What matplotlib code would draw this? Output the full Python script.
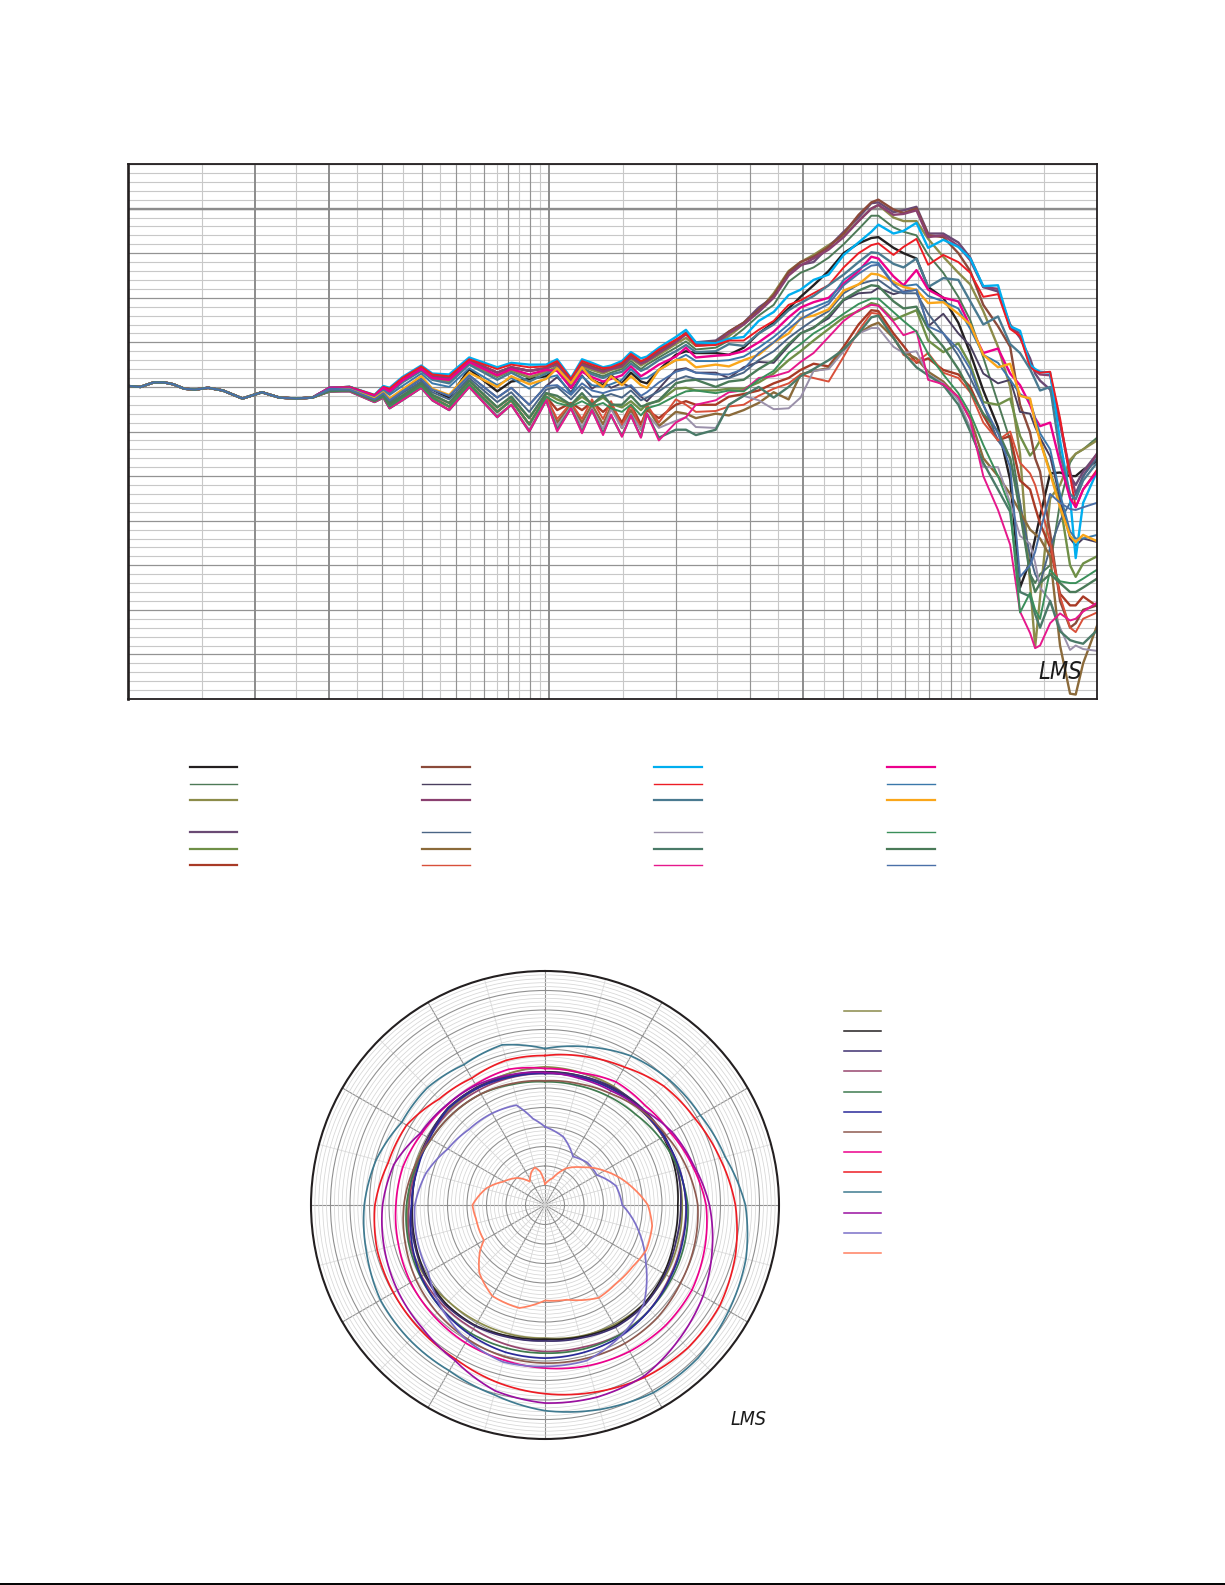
import numpy as np
import matplotlib
matplotlib.use("Agg")
import matplotlib.pyplot as plt
from matplotlib.lines import Line2D

W, H = 1225, 1585

# ---------- frequency response data (Hz / dB) ----------
FREQ_LOW = [100,107,115,122,128,136,144,155,168,187,208,229,251,274]
LEVEL_LOW = [35.1,35.0,35.5,35.5,35.3,34.8,34.7,34.9,34.6,33.7,34.4,33.8,33.7,33.8]

FREQ_A = [301,336,385,404,418,448,497,528,579,646,753,813,897,984]
FREQ_B = [1045,1127,1197,1264,1343,1403,1489,1564,1652,1707,1822,1999,2113,2231,2487,2672]
FREQ_C = [2897,3145,3414,3705,3954,4246,4611,5005,5431,5823,6052,6572,6942,7452,7946,8630,9370,10000]
FREQ_D = [10740,11640,12440,13130,13870,14260,14650,15480,16340,17260,17800,18540,20000]

BLACK = [34.7,34.7,33.7,34.3,33.6,34.6,35.9,34.7,33.8,37,34.5,35.6,35.9,36.2,
 37.1,34.9,36.9,35.8,35.2,36.3,35.4,36.6,35.6,35.4,36.9,38.6,39,38.8,38.8,38.6,
 39.4,41,42.2,43.8,45.1,46.4,48,50,51.1,51.7,51.8,50.6,50,49.4,46.2,45,42.2,38.8,
 34.6,30.5,24.6,12.5,15.5,18,20.5,25.3,25.4,25,25,25.7,26.7]
GREEN_GRAY = [34.8,34.9,33.9,34.8,34.4,35.6,36.9,35.9,35.6,37.6,36.1,36.8,36,36.7,
 37.2,35.2,37.1,36.6,36.2,36.6,37,37.9,37,37.5,38.3,39.4,40.1,39.2,39.4,40.2,
 41.5,43,44.2,46.8,47.8,48.4,49.5,51,52.7,54.2,54.2,52.9,52.4,52,49.8,47.8,45.1,42.5,
 38.3,33.2,29,22,14,13,14,15,22,26.5,27.5,28,29.3]
OLIVE = [34.8,34.9,33.9,34.8,34.4,35.6,36.9,35.9,35.6,37.6,36.2,36.9,36.1,36.7,
 37.3,35.4,37.3,36.9,36.5,36.9,37.2,38.2,37.4,37.8,38.6,39.8,40.5,39.6,39.8,40.7,
 42,43.5,45.5,48,49,49.8,50.9,52,53.6,55,55.4,54,53.6,53.6,51.6,49.6,47.8,46.5,
 43.5,39.5,35,27.5,13,5.8,11.4,22.5,24,26.8,27.5,28,29]
PURPLE = [34.9,35,34,35,34.7,35.8,37.2,36.2,36,38,36.6,37.2,36.8,37.1,
 37.6,35.7,37.6,37.2,36.8,37.1,37.4,38.4,37.7,38,38.9,40.1,41.1,40,40.2,41.2,
 42.2,43.9,45.1,47.8,48.7,49,50.7,52.4,54,55.6,55.7,54.6,54.8,55.2,52.2,52.2,51.2,49.5,
 46.2,45.7,42,40.5,38.2,36.5,35.7,34.7,31,25,24,25.5,27.5]
OLIVE_GREEN = [34.6,34.6,33.5,34.1,33.1,34,35.4,34.1,33.2,35.7,32.7,33.9,31.5,34.3,
 33.6,33,33.9,33.1,33.8,33.1,32.7,33.4,32.4,33.1,33.4,34.8,34.9,34.6,34.6,34.8,
 34.8,35.5,36.5,38,39,40.2,41.5,42.8,43.5,44.4,44.2,42.5,43,43.6,40.2,38.9,39.9,37.5,
 33.3,33,33.7,29.5,27.3,28,29,25.5,22,15,13.7,15.2,16]
DARK_RED = [34.5,34.6,33.4,33.9,32.8,33.8,35.1,33.8,32.8,35.3,32.2,33.5,30.8,33.9,
 32.4,33.2,32.4,33.3,32.2,33,31,33,30.8,32.4,31.5,33,33.4,33,33,33.9,
 34.2,34.6,35.4,36,36.9,37.6,37.3,39.5,42,43.6,43.5,41,39.6,37.7,38.2,36.9,36.4,35,
 31.8,29,29.5,24.5,23.5,21.5,19.7,17,11.8,10.5,10.5,11.5,10.4]

BROWN = [34.9,35,34,35,34.7,35.8,37.2,36.2,36,38,36.6,37.2,36.8,37.1,
 37.7,35.8,37.7,37.3,36.9,37.2,37.5,38.5,37.8,38,39,40.2,41,39.9,40,41.2,
 42.2,43.6,45.3,47.9,49,49.6,50.7,52.2,54.3,55.7,56,54.9,54.5,55,52,51.8,50,48,
 44.2,41.8,39.5,33,29.9,27,25.5,18.6,11,8,8.5,10,10.5]
DARK_SLATE = [34.7,34.7,33.6,34.3,33.5,34.5,35.9,34.7,34,36.3,33.8,34.9,33,35.1,
 36.1,34.4,36.3,34.8,35.6,34.9,35.4,35,33.9,33.4,34.8,36.9,37.1,36.6,36.6,36,
 37.2,37.8,37.7,39.6,41,41.7,42.7,44.7,45.5,45.6,46.1,45.4,45.7,45.9,41.8,43.2,41,39.6,
 36.5,35.4,35.8,32.2,32,30.5,29.3,27.2,22.5,18,17.2,18,17.6]
PLUM = [34.9,35,34,35,34.7,35.8,37.2,36.2,36,38,36.6,37.2,36.8,37.1,
 37.5,35.6,37.5,37.1,36.7,37,37.3,38.3,37.6,37.9,38.8,40,40.9,39.8,39.9,41,
 42,43.4,45,47.5,48.6,49.4,50.4,51.8,53.6,55,55.4,54.3,54.4,54.8,51.8,52,50.8,49.2,
 46.2,46,41.6,41,37.4,36.8,36.4,36.3,31,25.5,23,25,27.5]
SLATE = [34.6,34.7,33.5,34.2,33.3,34.3,35.6,34.4,33.6,36,33.3,34.4,32.2,34.7,
 35,33.6,35,33.9,33.9,34.2,33.8,34.6,33.5,33.8,34.5,35.8,36.2,35.9,35.8,36,
 36.6,38,39,40.5,41.5,42.5,43.5,45.5,46.5,46.9,47,45.8,45.5,45.5,43.2,41,38.5,36,
 33,29,27,22,16,14,13,17,20,22,23,25,27]
GOLD_BROWN = [34.5,34.6,33.4,33.9,32.8,33.8,35.1,33.8,32.8,35.3,32.2,33.5,30.8,33.9,
 31,33,31,33,30.8,32.8,30.4,32.4,30.2,32.8,30.6,32.2,32,31.5,32,31.8,
 32.4,33.2,34.4,33.6,36.4,36.8,37.1,39.2,41,41.9,42.2,40.5,38.9,38.2,36.7,35.6,33.8,31.5,
 27,25,23,21,19,18.5,18,16,6,0.6,0.5,4,8.2]
RED_ORANGE = [34.5,34.6,33.4,33.9,32.8,33.8,35.1,33.8,32.8,35.3,32.2,33.5,30.8,33.9,
 31.4,33.2,31.4,33.6,31.4,33.4,30.6,33,30.2,33,31,33.6,33,32.2,32.3,32.8,
 33,34,34.8,35.4,36.4,36,35.6,38.4,41.3,43.3,43.2,40.6,38.6,37.8,38.8,36.6,36,34.4,
 31,29,30,26.5,25.3,24,22,17.6,11.5,8,7.5,9,9.7]

CYAN = [34.9,35.0,34.1,35.1,34.9,36.1,37.4,36.5,36.4,38.3,37.2,37.7,37.5,37.5,
 38.1,36,38.1,37.7,37.2,37.4,37.9,38.9,38.2,38.4,39.4,40.6,41.4,40,39.9,40.4,
 40.6,42.4,43.4,45.3,45.9,47,47.6,49.8,51.2,52.4,53.2,52.2,52.5,53.4,50.6,51.5,50.7,49.4,
 46.3,46.4,41.8,41.3,37.5,37,36.7,36.6,29,22.6,15.8,22,25.5]
RED = [34.9,35.0,34.1,35.0,34.8,36.0,37.3,36.4,36.2,38.1,37.0,37.5,37.2,37.3,
 37.9,35.9,37.9,37.5,37.1,37.2,37.7,38.7,37.9,38.2,39.2,40.3,41,39.6,39.7,40.2,
 40.2,41.4,42.4,44.2,44.7,45.5,46.4,48.4,50,50.9,51.1,49.8,50.7,51.6,48.7,49.8,49,47.8,
 45.1,45.4,41.5,40.7,37.2,36.8,36.6,36.7,31.5,25,21.5,23.5,25.7]
TEAL = [34.8,34.9,33.9,34.8,34.3,35.5,36.8,35.8,35.4,37.5,35.8,36.6,35.6,36.5,
 37.1,35.1,37,36.4,36,36.4,36.7,37.6,36.8,37.1,38,39,39.7,38.9,39,39.8,
 39.6,41,42,43.6,44.4,45.2,46.4,47.6,49,50.1,50,48.8,48.4,49.4,46.2,47.2,47,44.6,
 42,42.9,39.8,38.8,37,35.8,34.6,35,27.5,23,22.4,24.5,26.5]
LAVENDER = [34.5,34.5,33.3,33.8,32.6,33.5,34.9,33.5,32.4,35,31.8,33,30.2,33.6,
 30.6,32.8,30.5,32.6,30.3,32.5,30.4,32,30.2,32,30.4,31.2,31.6,30.5,30.4,33,
 34,33.5,32.5,32.6,33.8,36.8,37,39,41,41.6,41.6,39.5,38.8,39,36.4,35.4,33.5,30.4,
 26,26,22,18.3,17.4,15.3,12.5,11,8,5.5,6,5.6,5.4]
TEAL_GREEN = [34.5,34.5,33.3,33.8,32.6,33.5,34.9,33.5,32.4,35,31.6,33,30,33.5,
 30.2,32.6,30,32.4,29.8,31.8,29.5,31.8,29.4,32,29.3,30.2,30.2,29.6,30.2,33,
 34,35,33.8,35,36.2,37,38,39.2,41,42.8,43,40.5,38.8,37.2,36.3,35.2,33,30,
 26.5,23.5,21,12,11.5,9.5,8,11,7.6,6.6,6.4,6.2,7.7]
MAGENTA_LOW = [34.5,34.5,33.3,33.8,32.6,33.5,34.9,33.5,32.4,35,31.6,33,30,33.5,
 30,32.6,29.8,32.4,29.6,31.9,29.4,31.8,29.3,32,29,31,31.6,33,33.5,34.4,
 34.6,36,36.2,36.7,37.8,38.8,40.6,42.4,43.6,44.2,44.1,42.3,40.8,41.3,35.8,35.3,33.9,31.3,
 25,21.2,17.3,9.8,7.4,5.7,6,8.5,9.6,8.8,9,9.8,10.8]

MAGENTA = [34.9,34.9,34,34.9,34.5,35.7,37.0,36,35.8,37.8,36.3,37,36.4,36.9,
 36.8,34.9,36.7,36.1,35.6,35.9,36.3,37.3,36.2,36.6,37.5,38.4,39.4,38.3,38.5,38.6,
 39,40,41.2,42.8,43.9,44.5,45,46.6,48,49.6,49.4,47.4,46.4,48.1,45.9,45,44.6,41.8,
 38.8,39.3,36.5,35.2,33,31.5,30.6,31,26.5,22.5,21.5,23.5,25.5]
BLUE = [34.8,34.8,33.8,34.6,34.1,35.1,36.5,35.4,35,37.1,35.2,36,34.8,36,
 36.3,34.2,36.2,35.2,35,35.3,35.8,37,35.9,36,36.9,38,38.6,37.9,37.9,38,
 38.4,39.4,40.6,42,43.4,43.9,44.6,47,48.2,49,48.9,46.6,46.3,46.5,45.2,44.6,43.8,41.5,
 38.6,37.7,35.8,34.2,33.5,31.5,29.8,28,23,18.8,18,18,18.4]
ORANGE = [34.6,34.7,33.7,34.4,33.7,34.7,36.2,34.8,34.1,36.6,35,36.2,35.3,35.9,
 37.1,35.4,37.2,35.8,35,36.2,35.2,36.2,35.2,34.9,36.9,38,38.1,37.2,37.5,37.3,
 38,38.6,40,41,42.7,43,43.7,45.8,46.5,47.7,47.6,46.8,46.2,45.9,44.4,44.5,43.2,42,
 38.6,37.2,37.6,34,33.7,31,28.9,25.3,21.5,18.3,17.6,18.4,17.7]
BRIGHT_GREEN = [34.5,34.6,33.4,33.9,32.8,33.8,35.1,33.8,32.8,35.3,32.2,33.5,30.8,33.9,
 33.2,32.8,33.4,32.8,33.2,32.6,32.2,33,31.8,32.6,33,34,34.5,34.6,34.3,34.6,
 34.5,35.8,36.8,38.8,39.8,41,42,43.2,44.3,44.9,44.9,43.4,42.4,41.2,38.7,36.4,34.3,32,
 28.5,25,21.5,9.7,11.9,10,9,14.5,13.2,13,13,13.5,14.5]
DARK_GREEN = [34.6,34.6,33.5,34.1,33.1,34,35.4,34.1,33.2,35.7,32.7,33.9,31.5,34.3,
 34,33,34.3,33,34.1,33,33,34,32.8,33,33.5,35.4,35.7,35.8,35,35.6,
 35.8,37,38,39.8,41,41.6,43,44.8,45.8,46.4,46.3,44.6,43.8,44,41.5,39.5,37,34.5,
 32,30,27,21,14,12,13,14,13,12,12,12.5,13.5]
BLUE_LOW = [34.7,34.7,33.6,34.3,33.5,34.5,35.9,34.7,34,36.3,33.8,34.9,33,35.1,
 35.2,34.1,35.4,34.6,34.3,34.6,34.8,35.2,34,34.4,35.5,36.7,37,36.6,36.4,36.4,
 37,38.8,40,41.5,42.6,43.4,44.3,46.4,47.7,48.6,48.7,46.5,45.6,45.9,41.8,41,39.2,37,
 33,29.8,26,13.7,15,16.5,18.8,23,22,21.3,21.2,21.5,22]

SERIES = [BLACK, GREEN_GRAY, OLIVE, PURPLE, OLIVE_GREEN, DARK_RED,
          BROWN, DARK_SLATE, PLUM, SLATE, GOLD_BROWN, RED_ORANGE,
          CYAN, RED, TEAL, LAVENDER, TEAL_GREEN, MAGENTA_LOW,
          MAGENTA, BLUE, ORANGE, BRIGHT_GREEN, DARK_GREEN, BLUE_LOW]
SERIES_COLORS = ['#231f20','#4d7a57','#8c8c4a','#6a4a74','#6f8f47','#a83a26',
                 '#8b4a3a','#4a3f5f','#8a4070','#4a6585','#8b6a3a','#d8503a',
                 '#00aeef','#ed1c24','#4a7a90','#9a90aa','#4a7a68','#e6188c',
                 '#ec008c','#3a78aa','#faa61a','#3a8f5a','#4a7a58','#4a70a8']
SERIES_THICK = [1,0,1,1,1,1, 1,0,1,0,1,0, 1,0,1,0,1,0, 1,0,1,0,1,0]

# ---------- polar data: angle in degrees, radius as read (703 units = outer rim) ----------
ANGLES = list(range(0, 375, 15))
P_OLIVE = [415,412,412,405,410,412,412,415,420,420,415,408,400,402,405,410,420,422,411,408,405,405,405,410,415]
P_BLACK = [400,402,405,409,410,405,399,402,412,420,420,410,403,408,418,420,415,405,398,400,405,412,408,402,400]
P_INDIGO = [398,402,408,412,415,412,408,408,416,424,424,414,408,412,420,424,418,408,400,400,405,412,408,402,398]
P_MAUVE = [395,398,402,405,410,418,424,425,432,445,450,442,440,435,430,430,428,420,408,402,402,402,398,396,395]
P_GREEN = [370,372,378,385,400,415,429,435,440,445,450,448,445,445,445,440,432,425,416,405,395,390,385,375,370]
P_NAVY = [395,398,402,405,412,418,424,428,435,445,455,458,460,458,450,440,430,415,401,398,400,410,405,398,395]
P_BROWN = [373,378,388,405,420,440,459,465,470,478,480,477,475,472,465,458,448,435,424,410,395,390,385,378,373]
P_MAGENTA = [410,411,427,424,435,458,484,497,510,512,508,500,490,482,478,472,466,456,448,442,428,420,418,422,410]
P_RED = [449,462,478,505,520,544,572,592,606,607,598,582,567,552,535,530,526,522,511,488,480,450,440,450,449]
P_TEAL = [470,492,517,530,539,560,602,625,637,650,651,636,618,590,575,574,571,555,543,525,497,499,487,498,470]
P_PURPLE = [398,394,396,409,440,462,494,520,548,570,594,598,595,578,540,522,512,500,488,470,432,422,415,405,398]
ANGLES_LAV = [0,15,30,45,60,75,90,105,120,135,150,165,180,195,210,225,240,255,270,285,300,315,330,344,352,360]
P_LAVENDER = [235,212,168,180,180,221,232,290,350,420,455,484,485,488,469,439,405,398,391,370,337,322,318,312,262,235]
ANGLES_SAL = [0,16,30,45,61,79,90,101,114,125,138,150,167,180,194,210,224,235,240,258,270,286,299,315,327,338,345,352,360]
P_SALMON = [63,84,127,160,209,269,309,328,333,322,318,322,292,287,319,316,284,238,212,211,218,183,144,115,84,108,117,101,63]

POLAR_SERIES = [(ANGLES,P_OLIVE),(ANGLES,P_BLACK),(ANGLES,P_INDIGO),(ANGLES,P_MAUVE),(ANGLES,P_GREEN),
                (ANGLES,P_NAVY),(ANGLES,P_BROWN),(ANGLES,P_MAGENTA),(ANGLES,P_RED),(ANGLES,P_TEAL),
                (ANGLES,P_PURPLE),(ANGLES_LAV,P_LAVENDER),(ANGLES_SAL,P_SALMON)]
POLAR_COLORS = ['#8a8a4a','#231f20','#3e3070','#97466f','#3f7a4f','#2a2a9a','#8e5a50',
                '#ec008c','#ed1c24','#3f7a90','#9a10a0','#7b70c8','#ff8060']

# ---------- gridlines ----------
X_HEAVY = [200,300,1000,4000]
X_MID = [400,500,600,700,800,900,2000,3000,5000,6000,7000,8000,9000,10000]
X_LIGHT = [150,250,350,450,550,650,750,850,950,1500,2500,3500,4500,5500,6500,7500,8500,9500,15000]
DB_FINE = list(range(0, 61))
DB_MID = list(range(0, 61, 5))
DB_HEAVY = [55]

fig = plt.figure(figsize=(W/100, H/100), dpi=100, facecolor='white')

def rect(l, t, r, b):
    return [l/W, 1-b/H, (r-l)/W, (b-t)/H]

# ---------- top chart ----------
ax = fig.add_axes(rect(128, 164, 1097, 699))
ax.set_xscale('log')
ax.set_xlim(100, 20000)
ax.set_ylim(0, 60)
for y in DB_FINE:
    ax.axhline(y, color='#c8c8c8', lw=0.8, zorder=1)
for x in X_LIGHT:
    ax.axvline(x, color='#c8c8c8', lw=0.8, zorder=1)
for y in DB_MID:
    ax.axhline(y, color='#939393', lw=0.85, zorder=1.2)
for x in X_MID:
    ax.axvline(x, color='#939393', lw=0.85, zorder=1.2)
for x in X_HEAVY:
    ax.axvline(x, color='#8c8c8c', lw=1.4, zorder=1.3)
for y in DB_HEAVY:
    ax.axhline(y, color='#8c8c8c', lw=1.7, zorder=1.3)
freq = FREQ_LOW + FREQ_A + FREQ_B + FREQ_C + FREQ_D
for vals, c, th in zip(SERIES, SERIES_COLORS, SERIES_THICK):
    ax.plot(freq, LEVEL_LOW + vals, color=c, lw=1.7 if th else 1.4, zorder=3,
            solid_joinstyle='round', clip_on=True)
ax.set_xticks([]); ax.set_yticks([])
ax.minorticks_off()
ax.tick_params(which='both', length=0, labelbottom=False, labelleft=False)
for s in ax.spines.values():
    s.set_color('#231f20'); s.set_linewidth(1.3); s.set_zorder(5)
ax.spines['left'].set_linewidth(1.9)
ax.text(0.962, 0.028, 'LMS', transform=ax.transAxes, ha='center', va='bottom',
        family='DejaVu Sans', style='oblique', stretch='condensed', fontsize=17, color='#1a1a1a', zorder=6)

# ---------- top legend keys ----------
key_cols = [(190, 237), (422, 470), (654, 702), (887, 935)]
key_rows = [767, 783.5, 800, 832, 848.5, 865]
for i, (c, th) in enumerate(zip(SERIES_COLORS, SERIES_THICK)):
    x0, x1 = key_cols[i // 6]
    yy = 1 - key_rows[i % 6]/H
    fig.add_artist(Line2D([x0/W, x1/W], [yy, yy], color=c, lw=1.6 if th else 1.0))

# ---------- polar chart ----------
pax = fig.add_axes(rect(545-234, 1205-234, 545+234, 1205+234), projection='polar')
pax.set_theta_zero_location('N')
pax.set_theta_direction(-1)
pax.set_rlim(0, 60)
pax.set_xticks(np.radians(np.arange(0, 360, 30)))
pax.set_xticks(np.radians(np.arange(15, 360, 30)), minor=True)
pax.set_yticks(np.arange(5, 60, 5))
pax.set_yticks(np.arange(1, 60, 1), minor=True)
pax.grid(True, which='minor', color='#d6d6d6', lw=0.55)
pax.grid(True, which='major', color='#909090', lw=0.8)
pax.set_xticklabels([]); pax.set_yticklabels([])
pax.tick_params(which='both', length=0)
for (ang, rad), c in zip(POLAR_SERIES, POLAR_COLORS):
    ln, = pax.plot(np.radians(ang), np.array(rad)*60/703, color=c, lw=1.25, zorder=3)
    ln.get_path()._interpolation_steps = 15
pax.spines['polar'].set_color('#231f20')
pax.spines['polar'].set_linewidth(1.5)
fig.text(749/W, 1-1429/H, 'LMS', ha='center', va='bottom', family='DejaVu Sans', style='oblique',
         stretch='condensed', fontsize=14, color='#1a1a1a')

# ---------- polar legend keys ----------
for i, c in enumerate(POLAR_COLORS):
    yy = 1 - (1011 + 20.15*i)/H
    fig.add_artist(Line2D([844/W, 881/W], [yy, yy], color=c, lw=1.1))

# ---------- bottom rule ----------
fig.add_artist(Line2D([0, 1], [1-1584/H, 1-1584/H], color='black', lw=1.4))

fig.savefig('out.png', dpi=100, facecolor='white')
